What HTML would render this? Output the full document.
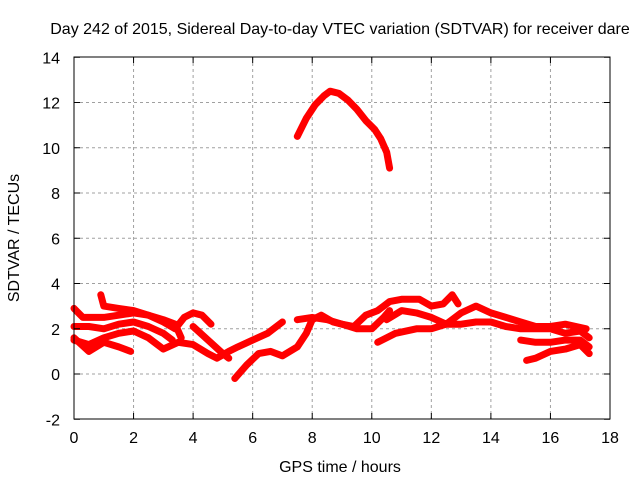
<!DOCTYPE html>
<html><head><meta charset="utf-8"><style>
body{margin:0;background:#fff}
svg{display:block;font-family:"Liberation Sans",sans-serif;font-size:16px}
</style></head><body>
<svg id="chart" width="640" height="480">
<rect width="640" height="480" fill="#fff"/>
<text x="340" y="34" text-anchor="middle" fill="#000">Day 242 of 2015, Sidereal Day-to-day VTEC variation (SDTVAR) for receiver dare</text>
<g id="grid"></g><g id="series"></g>
<rect x="74" y="57" width="536" height="362" fill="none" stroke="#000" stroke-width="1"/>
<g id="axes"></g>
<text x="340" y="472" text-anchor="middle">GPS time / hours</text>
<text transform="translate(19,238) rotate(-90)" text-anchor="middle">SDTVAR / TECUs</text>
</svg>
<script>
const xTicks=[0,2,4,6,8,10,12,14,16,18];
const yTicks=[-2,0,2,4,6,8,10,12,14];
const s1h=[7.5,7.8,8.1,8.4,8.6,8.9,9.2,9.5,9.8,10.1,10.3,10.5,10.6];
const s1v=[10.5,11.3,11.9,12.3,12.5,12.4,12.1,11.7,11.2,10.8,10.4,9.8,9.1];
const s2h=[0,0.3,1.0,1.5,2.0,2.5,3.0,3.4,3.6];
const s2v=[2.9,2.5,2.5,2.6,2.7,2.6,2.4,2.2,1.6];
const s3h=[0,0.5,1,1.5,2,2.5,3,3.3];
const s3v=[2.1,2.1,2.0,2.2,2.3,2.1,1.8,1.5];
const s4h=[0,0.5,1,1.5,2,2.5,3,3.5,4,4.5,4.8,5.2,5.5,6,6.5,7];
const s4v=[1.5,1.3,1.6,1.8,1.9,1.6,1.1,1.4,1.3,0.9,0.7,1.0,1.2,1.5,1.8,2.3];
const s5h=[0,0.5,1,1.5,1.9];
const s5v=[1.6,1.0,1.4,1.2,1.0];
const s6h=[0.9,1.0,1.5,2,2.5,3,3.4,3.7,4,4.3,4.6];
const s6v=[3.5,3.0,2.9,2.8,2.6,2.3,2.0,2.5,2.7,2.6,2.2];
const s7h=[4.0,4.5,5,5.2];
const s7v=[2.1,1.5,0.9,0.7];
const s8h=[5.4,5.8,6.2,6.6,7,7.5,7.8,8,8.3,8.7,9,9.4,9.8,10.2,10.6,11,11.6,12,12.4,12.7,12.9];
const s8v=[-0.2,0.4,0.9,1.0,0.8,1.2,1.8,2.4,2.6,2.3,2.2,2.1,2.6,2.8,3.2,3.3,3.3,3.0,3.1,3.5,3.1];
const s9h=[7.5,8,8.5,9,9.5,10,10.4,10.6];
const s9v=[2.4,2.5,2.4,2.2,2.0,2.0,2.5,2.8];
const s10h=[10.2,10.8,11.5,12,12.5,13,13.5,14,14.5,15,15.5,16,16.5,17,17.3];
const s10v=[1.4,1.8,2.0,2.0,2.2,2.2,2.3,2.3,2.1,2.0,2.0,2.0,1.8,1.9,1.6];
const s11h=[10.5,11,11.5,12,12.5,13,13.5,14,14.5,15,15.5,16,16.5,17.2];
const s11v=[2.4,2.8,2.7,2.5,2.2,2.7,3.0,2.7,2.5,2.3,2.1,2.1,2.2,2.0];
const s12h=[15,15.5,16,16.5,17,17.3];
const s12v=[1.5,1.4,1.4,1.5,1.5,1.2];
const s13h=[15.2,15.5,16,16.5,17,17.3];
const s13v=[0.6,0.7,1.0,1.1,1.3,0.9];
const allH=[s1h,s2h,s3h,s4h,s5h,s6h,s7h,s8h,s9h,s10h,s11h,s12h,s13h];
const allV=[s1v,s2v,s3v,s4v,s5v,s6v,s7v,s8v,s9v,s10v,s11v,s12v,s13v];
const X=h=>74+h*(536/18);
const Y=v=>374-v*(362/16);
const NS='http://www.w3.org/2000/svg';
const grid=document.getElementById('grid'),axes=document.getElementById('axes'),ser=document.getElementById('series');
function mk(tag,at,par){const e=document.createElementNS(NS,tag);for(const k in at)e.setAttribute(k,at[k]);par.appendChild(e);return e;}
xTicks.forEach(t=>{const x=X(t);
 if(t>0&&t<18){const g=mk('line',{x1:x,x2:x,y1:57,y2:419,stroke:'#a0a0a0','stroke-dasharray':'3,3'},grid);
 
 }
 mk('line',{x1:x,x2:x,y1:419,y2:413,stroke:'#000'},axes);mk('line',{x1:x,x2:x,y1:57,y2:63,stroke:'#000'},axes);
 const tx=mk('text',{x:x,y:443,'text-anchor':'middle'},axes);tx.textContent=t;
 
 });
yTicks.forEach(t=>{const y=Y(t);
 if(t>-2&&t<14){const g=mk('line',{x1:74,x2:610,y1:y,y2:y,stroke:'#a0a0a0','stroke-dasharray':'3,3'},grid);
 
 }
 mk('line',{x1:74,x2:80,y1:y,y2:y,stroke:'#000'},axes);mk('line',{x1:610,x2:604,y1:y,y2:y,stroke:'#000'},axes);
 const tx=mk('text',{x:60,y:y+6,'text-anchor':'end'},axes);tx.textContent=t;
 
 });
allH.forEach((hs,i)=>{const vs=allV[i];
 const pts=hs.map((h,j)=>X(h).toFixed(1)+','+Y(vs[j]).toFixed(1)).join(' ');
 const p=mk('polyline',{points:pts,fill:'none',stroke:'#ff0000','stroke-width':7,'stroke-linejoin':'round','stroke-linecap':'round'},ser);
 
 });
</script>
</body></html>
